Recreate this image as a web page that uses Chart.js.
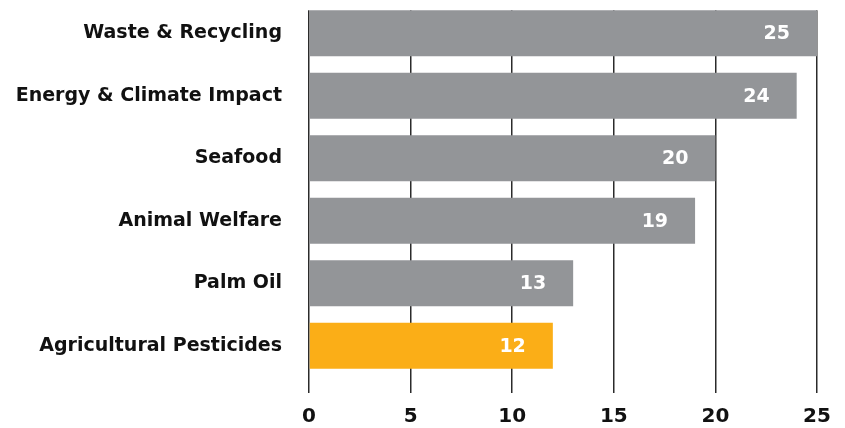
<!DOCTYPE html>
<html>
<head>
<meta charset="utf-8">
<script src="https://cdn.jsdelivr.net/npm/chart.js@4"></script>
<style>
  html, body { margin: 0; padding: 0; background: #fff; }
  #wrap { width: 845px; height: 428px; }
</style>
</head>
<body>
<div id="wrap"><canvas id="barChart"></canvas></div>
<script>
const categories = ['Waste & Recycling', 'Energy & Climate Impact', 'Seafood', 'Animal Welfare', 'Palm Oil', 'Agricultural Pesticides'];
const counts = [25, 24, 20, 19, 13, 12];
const xTicks = [0, 5, 10, 15, 20, 25];
const highlight = 'Agricultural Pesticides';

const GREY = '#939598';
const ORANGE = '#FBAE17';
const FONT = '"DejaVu Sans", "Open Sans", sans-serif';

// grid lines start at the top edge of the first bar, not the top of the plot
const trimGridTop = {
  id: 'trimGridTop',
  beforeDatasetsDraw(chart) {
    const bar = chart.getDatasetMeta(0).data[0];
    if (!bar) return;
    const area = chart.chartArea;
    const top = bar.y - bar.height / 2;
    const ctx = chart.ctx;
    ctx.save();
    ctx.fillStyle = '#fff';
    ctx.fillRect(area.left - 2, 0, area.right - area.left + 4, top);
    ctx.restore();
  }
};

// white numbers inside the end of each bar
const valueLabels = {
  id: 'valueLabels',
  afterDatasetsDraw(chart) {
    const ctx = chart.ctx;
    const meta = chart.getDatasetMeta(0);
    ctx.save();
    ctx.fillStyle = '#fff';
    ctx.font = 'bold 19px ' + FONT;
    ctx.textAlign = 'right';
    ctx.textBaseline = 'middle';
    meta.data.forEach((bar, i) => {
      ctx.fillText(String(counts[i]), bar.x - 27, bar.y + 1);
    });
    ctx.restore();
  }
};

function createChart() {
  const ctx = document.getElementById('barChart').getContext('2d');
  return new Chart(ctx, {
    type: 'bar',
    data: {
      labels: categories,
      datasets: [{
        data: counts,
        backgroundColor: categories.map(c => c === highlight ? ORANGE : GREY),
        borderWidth: 0,
        categoryPercentage: 1,
        barPercentage: 0.735
      }]
    },
    options: {
      indexAxis: 'y',
      responsive: true,
      maintainAspectRatio: false,
      animation: false,
      layout: { padding: { top: 2, right: 28, left: 0, bottom: 0 } },
      plugins: {
        legend: { display: false },
        tooltip: { enabled: false }
      },
      scales: {
        x: {
          min: 0,
          max: 25,
          afterBuildTicks: (scale) => { scale.ticks = xTicks.map(v => ({ value: v })); },
          afterFit: (scale) => { scale.height = 51; },
          border: { display: false },
          grid: { color: '#2b2b2b', lineWidth: 1.5, drawTicks: true, tickLength: 16, tickColor: '#2b2b2b' },
          ticks: {
            color: '#111',
            padding: 12,
            font: { family: FONT, size: 20, weight: 'bold' }
          }
        },
        y: {
          afterFit: (scale) => {
            scale.width = 309;
            // tick padding would otherwise push the plot down from the top
            scale.paddingTop = 0;
            scale.paddingBottom = 0;
          },
          border: { display: false },
          grid: { display: false, drawTicks: false },
          ticks: {
            color: '#111',
            padding: 27,
            font: { family: FONT, size: 19, weight: 'bold' }
          }
        }
      }
    },
    plugins: [trimGridTop, valueLabels]
  });
}

document.addEventListener('DOMContentLoaded', () => {
  createChart();
});
</script>
</body>
</html>
